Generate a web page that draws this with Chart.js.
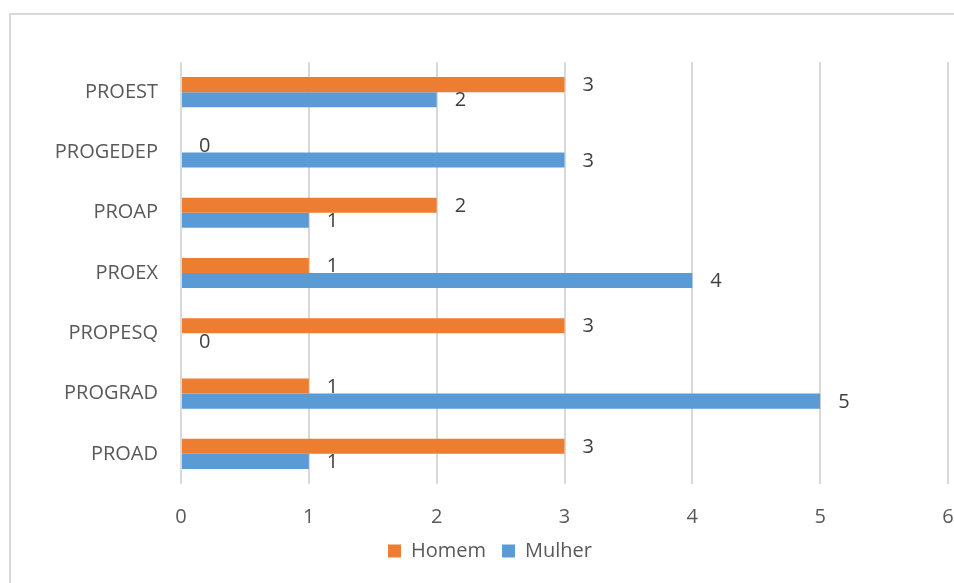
<!DOCTYPE html>
<html>
<head>
<meta charset="utf-8">
<script src="https://cdn.jsdelivr.net/npm/chart.js@4/dist/chart.umd.min.js"></script>
<style>
  html, body { margin: 0; padding: 0; background: #fff; overflow: hidden; }
  #frame {
    position: absolute; left: 9px; top: 13px;
    width: 1000px; height: 700px;
    border: 2px solid #d9d9d9; box-sizing: border-box;
  }
  #wrap { position: absolute; left: 0; top: 0; width: 954px; height: 583px; }
</style>
</head>
<body>
<div id="frame"></div>
<div id="wrap"><canvas id="chart" width="954" height="583"></canvas></div>
<script>
// categories, top to bottom
const setores = ["PROEST", "PROGEDEP", "PROAP", "PROEX", "PROPESQ", "PROGRAD", "PROAD"];
const homem = [3, 0, 2, 1, 3, 1, 3];
const mulher = [2, 3, 1, 4, 0, 5, 1];
const xTicks = [0, 1, 2, 3, 4, 5, 6];

const FONT = "'Open Sans', sans-serif";

// value labels drawn just past the end of each bar
const barLabels = {
  id: "barLabels",
  afterDatasetsDraw(chart) {
    const ctx = chart.ctx;
    ctx.save();
    ctx.font = "20px " + FONT;
    ctx.fillStyle = "#404040";
    ctx.textAlign = "left";
    ctx.textBaseline = "middle";
    chart.data.datasets.forEach((ds, i) => {
      chart.getDatasetMeta(i).data.forEach((bar, j) => {
        ctx.fillText(String(ds.data[j]), bar.x + 18, bar.y + 1);
      });
    });
    ctx.restore();
  },
};

const ctx = document.getElementById("chart").getContext("2d");
const chart = new Chart(ctx, {
  type: "bar",
  data: {
    labels: setores,
    datasets: [
      {
        label: "Homem",
        data: homem,
        backgroundColor: "#ED7D31",
        categoryPercentage: 0.5,
        barPercentage: 1,
      },
      {
        label: "Mulher",
        data: mulher,
        backgroundColor: "#5B9BD5",
        categoryPercentage: 0.5,
        barPercentage: 1,
      },
    ],
  },
  options: {
    indexAxis: "y",
    responsive: false,
    animation: false,
    // left padding shifts the legend centre to the right
    layout: { padding: { top: 62, right: 0, bottom: 12, left: 26 } },
    scales: {
      x: {
        min: 0,
        max: 6,
        afterBuildTicks: (scale) => {
          scale.ticks = xTicks.map((v) => ({ value: v }));
        },
        afterFit: (scale) => {
          scale.height = 41;
          scale.paddingLeft = 0;
          scale.paddingRight = 6;
        },
        grid: { color: "#d9d9d9", lineWidth: 2, drawTicks: false },
        border: { display: false },
        ticks: {
          padding: 21,
          color: "#595959",
          font: { family: FONT, size: 20 },
        },
      },
      y: {
        afterFit: (scale) => {
          scale.width = 155;
        },
        grid: { display: false, drawTicks: false },
        border: { display: false },
        ticks: {
          padding: 23,
          color: "#595959",
          font: { family: FONT, size: 20 },
        },
      },
    },
    plugins: {
      legend: {
        position: "bottom",
        labels: {
          boxWidth: 13,
          boxHeight: 13,
          padding: 16,
          color: "#595959",
          font: { family: FONT, size: 20 },
        },
      },
      tooltip: { enabled: false },
    },
  },
  plugins: [barLabels],
});
</script>
</body>
</html>
